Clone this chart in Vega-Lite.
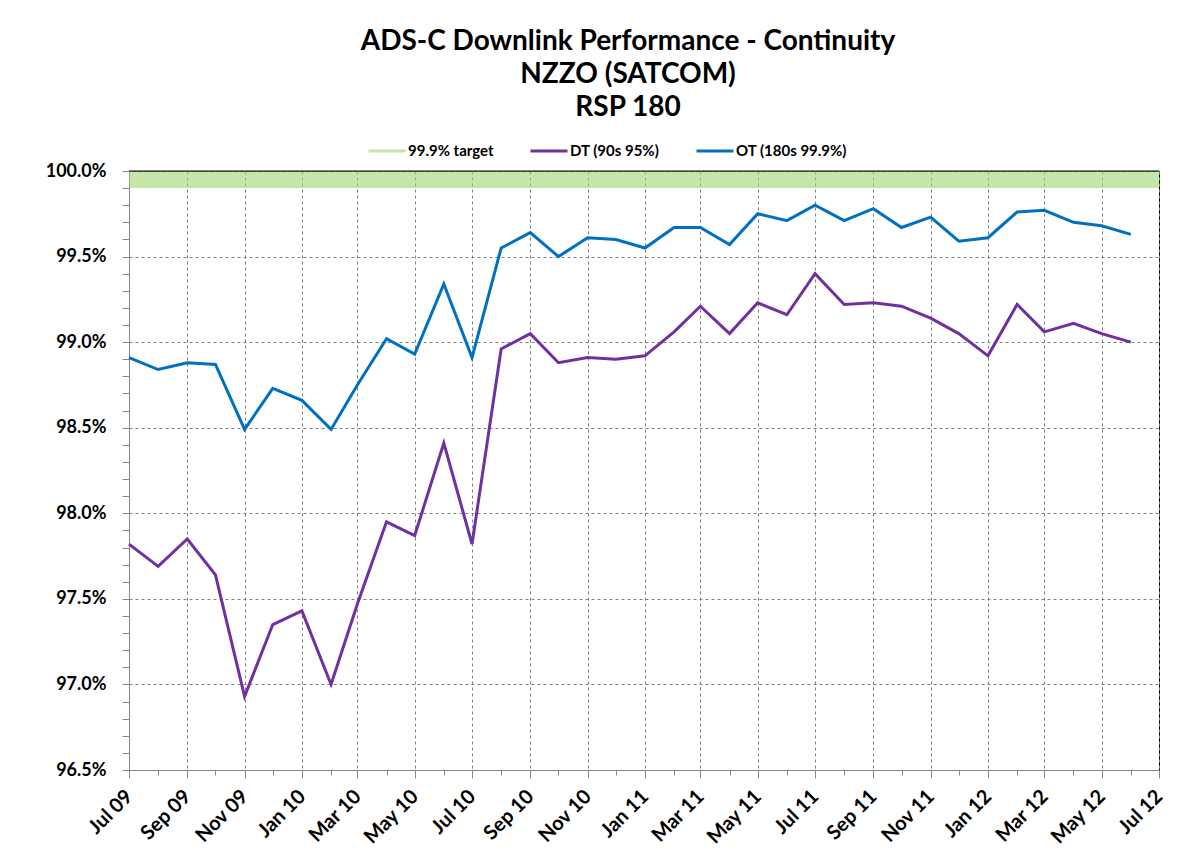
{
  "$schema": "https://vega.github.io/schema/vega-lite/v6.json",
  "width": 1030,
  "height": 599,
  "autosize": {"type": "none"},
  "padding": {"left": 129, "top": 171, "right": 43, "bottom": 93},
  "background": "white",
  "title": {
    "text": ["ADS-C Downlink Performance - Continuity", "NZZO (SATCOM)", "RSP 180"],
    "font": "Lato",
    "fontSize": 28,
    "fontWeight": "bold",
    "lineHeight": 33,
    "color": "black",
    "anchor": "middle",
    "frame": "group",
    "dx": -16,
    "dy": -5
  },
  "config": {
    "view": {"stroke": "black", "strokeWidth": 1},
    "axis": {"labelFont": "Lato", "labelFontWeight": "bold", "labelColor": "black", "domainColor": "#868686", "tickColor": "#868686", "gridColor": "#808080", "gridDash": [3, 3], "gridWidth": 1}
  },
  "datasets": {
    "band": [{"series": "99.9% target", "lo": 99.9, "hi": 100}],
    "perf": [
      {"month": "2009-07-01", "series": "DT (90s 95%)", "value": 97.82},
      {"month": "2009-08-01", "series": "DT (90s 95%)", "value": 97.69},
      {"month": "2009-09-01", "series": "DT (90s 95%)", "value": 97.85},
      {"month": "2009-10-01", "series": "DT (90s 95%)", "value": 97.64},
      {"month": "2009-11-01", "series": "DT (90s 95%)", "value": 96.93},
      {"month": "2009-12-01", "series": "DT (90s 95%)", "value": 97.35},
      {"month": "2010-01-01", "series": "DT (90s 95%)", "value": 97.43},
      {"month": "2010-02-01", "series": "DT (90s 95%)", "value": 97.00},
      {"month": "2010-03-01", "series": "DT (90s 95%)", "value": 97.47},
      {"month": "2010-04-01", "series": "DT (90s 95%)", "value": 97.95},
      {"month": "2010-05-01", "series": "DT (90s 95%)", "value": 97.87},
      {"month": "2010-06-01", "series": "DT (90s 95%)", "value": 98.41},
      {"month": "2010-07-01", "series": "DT (90s 95%)", "value": 97.82},
      {"month": "2010-08-01", "series": "DT (90s 95%)", "value": 98.96},
      {"month": "2010-09-01", "series": "DT (90s 95%)", "value": 99.05},
      {"month": "2010-10-01", "series": "DT (90s 95%)", "value": 98.88},
      {"month": "2010-11-01", "series": "DT (90s 95%)", "value": 98.91},
      {"month": "2010-12-01", "series": "DT (90s 95%)", "value": 98.90},
      {"month": "2011-01-01", "series": "DT (90s 95%)", "value": 98.92},
      {"month": "2011-02-01", "series": "DT (90s 95%)", "value": 99.06},
      {"month": "2011-03-01", "series": "DT (90s 95%)", "value": 99.21},
      {"month": "2011-04-01", "series": "DT (90s 95%)", "value": 99.05},
      {"month": "2011-05-01", "series": "DT (90s 95%)", "value": 99.23},
      {"month": "2011-06-01", "series": "DT (90s 95%)", "value": 99.16},
      {"month": "2011-07-01", "series": "DT (90s 95%)", "value": 99.40},
      {"month": "2011-08-01", "series": "DT (90s 95%)", "value": 99.22},
      {"month": "2011-09-01", "series": "DT (90s 95%)", "value": 99.23},
      {"month": "2011-10-01", "series": "DT (90s 95%)", "value": 99.21},
      {"month": "2011-11-01", "series": "DT (90s 95%)", "value": 99.14},
      {"month": "2011-12-01", "series": "DT (90s 95%)", "value": 99.05},
      {"month": "2012-01-01", "series": "DT (90s 95%)", "value": 98.92},
      {"month": "2012-02-01", "series": "DT (90s 95%)", "value": 99.22},
      {"month": "2012-03-01", "series": "DT (90s 95%)", "value": 99.06},
      {"month": "2012-04-01", "series": "DT (90s 95%)", "value": 99.11},
      {"month": "2012-05-01", "series": "DT (90s 95%)", "value": 99.05},
      {"month": "2012-06-01", "series": "DT (90s 95%)", "value": 99.00},
      {"month": "2009-07-01", "series": "OT (180s 99.9%)", "value": 98.91},
      {"month": "2009-08-01", "series": "OT (180s 99.9%)", "value": 98.84},
      {"month": "2009-09-01", "series": "OT (180s 99.9%)", "value": 98.88},
      {"month": "2009-10-01", "series": "OT (180s 99.9%)", "value": 98.87},
      {"month": "2009-11-01", "series": "OT (180s 99.9%)", "value": 98.49},
      {"month": "2009-12-01", "series": "OT (180s 99.9%)", "value": 98.73},
      {"month": "2010-01-01", "series": "OT (180s 99.9%)", "value": 98.66},
      {"month": "2010-02-01", "series": "OT (180s 99.9%)", "value": 98.49},
      {"month": "2010-03-01", "series": "OT (180s 99.9%)", "value": 98.75},
      {"month": "2010-04-01", "series": "OT (180s 99.9%)", "value": 99.02},
      {"month": "2010-05-01", "series": "OT (180s 99.9%)", "value": 98.93},
      {"month": "2010-06-01", "series": "OT (180s 99.9%)", "value": 99.34},
      {"month": "2010-07-01", "series": "OT (180s 99.9%)", "value": 98.91},
      {"month": "2010-08-01", "series": "OT (180s 99.9%)", "value": 99.55},
      {"month": "2010-09-01", "series": "OT (180s 99.9%)", "value": 99.64},
      {"month": "2010-10-01", "series": "OT (180s 99.9%)", "value": 99.50},
      {"month": "2010-11-01", "series": "OT (180s 99.9%)", "value": 99.61},
      {"month": "2010-12-01", "series": "OT (180s 99.9%)", "value": 99.60},
      {"month": "2011-01-01", "series": "OT (180s 99.9%)", "value": 99.55},
      {"month": "2011-02-01", "series": "OT (180s 99.9%)", "value": 99.67},
      {"month": "2011-03-01", "series": "OT (180s 99.9%)", "value": 99.67},
      {"month": "2011-04-01", "series": "OT (180s 99.9%)", "value": 99.57},
      {"month": "2011-05-01", "series": "OT (180s 99.9%)", "value": 99.75},
      {"month": "2011-06-01", "series": "OT (180s 99.9%)", "value": 99.71},
      {"month": "2011-07-01", "series": "OT (180s 99.9%)", "value": 99.80},
      {"month": "2011-08-01", "series": "OT (180s 99.9%)", "value": 99.71},
      {"month": "2011-09-01", "series": "OT (180s 99.9%)", "value": 99.78},
      {"month": "2011-10-01", "series": "OT (180s 99.9%)", "value": 99.67},
      {"month": "2011-11-01", "series": "OT (180s 99.9%)", "value": 99.73},
      {"month": "2011-12-01", "series": "OT (180s 99.9%)", "value": 99.59},
      {"month": "2012-01-01", "series": "OT (180s 99.9%)", "value": 99.61},
      {"month": "2012-02-01", "series": "OT (180s 99.9%)", "value": 99.76},
      {"month": "2012-03-01", "series": "OT (180s 99.9%)", "value": 99.77},
      {"month": "2012-04-01", "series": "OT (180s 99.9%)", "value": 99.70},
      {"month": "2012-05-01", "series": "OT (180s 99.9%)", "value": 99.68},
      {"month": "2012-06-01", "series": "OT (180s 99.9%)", "value": 99.63}
    ]
  },
  "layer": [
    {
      "data": {"name": "band"},
      "mark": {"type": "rect"},
      "encoding": {
        "y": {
          "field": "lo",
          "type": "quantitative",
          "title": null,
          "scale": {"domain": [96.5, 100], "nice": false, "zero": false},
          "axis": {
            "values": [96.5, 96.6, 96.7, 96.8, 96.9, 97.0, 97.1, 97.2, 97.3, 97.4, 97.5, 97.6, 97.7, 97.8, 97.9, 98.0, 98.1, 98.2, 98.3, 98.4, 98.5, 98.6, 98.7, 98.8, 98.9, 99.0, 99.1, 99.2, 99.3, 99.4, 99.5, 99.6, 99.7, 99.8, 99.9, 100.0],
            "tickCount": 200,
            "labelExpr": "abs(datum.value * 2 - round(datum.value * 2)) < 0.01 ? format(datum.value, '.1f') + '%' : ''",
            "labelOverlap": false,
            "labelFontSize": 18,
            "labelPadding": 16,
            "tickSize": 7,
            "gridOpacity": {"condition": {"test": "abs(datum.value * 2 - round(datum.value * 2)) < 0.01", "value": 1}, "value": 0}
          }
        },
        "y2": {"field": "hi"},
        "color": {"field": "series", "type": "nominal"}
      }
    },
    {
      "data": {"name": "perf"},
      "mark": {"type": "line", "strokeWidth": 3},
      "encoding": {
        "x": {
          "field": "month",
          "type": "temporal",
          "title": null,
          "scale": {"type": "utc", "nice": false, "domain": [{"year": 2009, "month": 7, "date": 1, "utc": true}, {"year": 2012, "month": 7, "date": 1, "utc": true}]},
          "axis": {
            "tickCount": {"interval": "month", "step": 1},
            "labelExpr": "utcmonth(datum.value) % 2 == 0 ? utcFormat(datum.value, '%b %y') : ''",
            "labelOverlap": false,
            "labelAngle": -45,
            "labelAlign": "right",
            "labelBaseline": "middle",
            "labelFontSize": 20,
            "labelPadding": 15,
            "labelFlush": false,
            "tickSize": {"condition": {"test": "utcmonth(datum.value) % 2 == 0", "value": 8}, "value": 5},
            "gridOpacity": {"condition": {"test": "utcmonth(datum.value) % 2 == 0", "value": 1}, "value": 0}
          }
        },
        "y": {
          "field": "value",
          "type": "quantitative",
          "title": null,
          "scale": {"domain": [96.5, 100], "nice": false, "zero": false},
          "axis": {
            "values": [96.5, 96.6, 96.7, 96.8, 96.9, 97.0, 97.1, 97.2, 97.3, 97.4, 97.5, 97.6, 97.7, 97.8, 97.9, 98.0, 98.1, 98.2, 98.3, 98.4, 98.5, 98.6, 98.7, 98.8, 98.9, 99.0, 99.1, 99.2, 99.3, 99.4, 99.5, 99.6, 99.7, 99.8, 99.9, 100.0],
            "tickCount": 200,
            "labelExpr": "abs(datum.value * 2 - round(datum.value * 2)) < 0.01 ? format(datum.value, '.1f') + '%' : ''",
            "labelOverlap": false,
            "labelFontSize": 18,
            "labelPadding": 16,
            "tickSize": 7,
            "gridOpacity": {"condition": {"test": "abs(datum.value * 2 - round(datum.value * 2)) < 0.01", "value": 1}, "value": 0}
          }
        },
        "color": {
          "field": "series",
          "type": "nominal",
          "scale": {"domain": ["99.9% target", "DT (90s 95%)", "OT (180s 99.9%)"], "range": ["rgba(160,212,110,0.6)", "#7030a0", "#0070c0"]},
          "legend": {
            "title": null,
            "orient": "none",
            "legendX": 238,
            "legendY": -40,
            "direction": "horizontal",
            "symbolType": "stroke",
            "symbolSize": 1369,
            "symbolStrokeWidth": 3,
            "labelFont": "Lato",
            "labelFontWeight": "bold",
            "labelFontSize": 15,
            "labelColor": "black",
            "labelOffset": 1,
            "columnPadding": 30
          }
        }
      }
    },
    {
      "data": {"values": [{}]},
      "mark": {"type": "rule", "color": "black", "strokeWidth": 1},
      "encoding": {"y": {"datum": 100}}
    }
  ]
}
